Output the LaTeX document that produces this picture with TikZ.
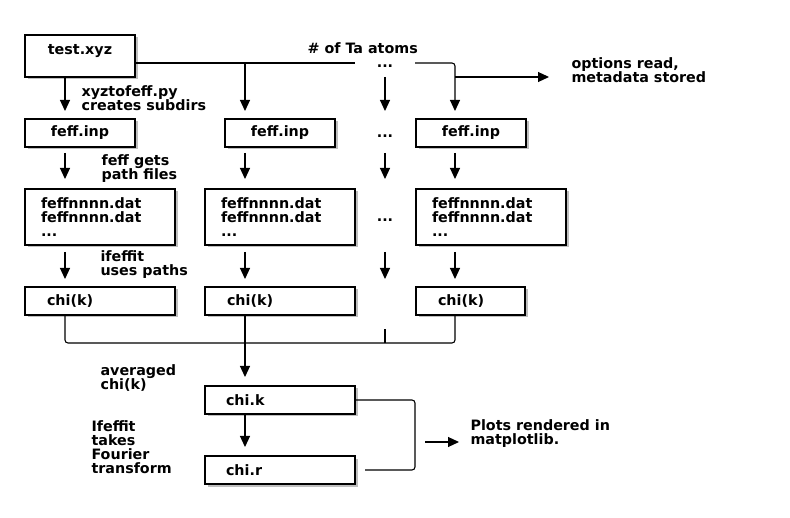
\documentclass[tikz,border=0pt]{standalone}
\usepackage{fontspec}
\setmainfont{DejaVu Sans}
\usetikzlibrary{positioning, arrows.meta, shadows}
\tikzset{%
  every node/.style={font=\bfseries\fontsize{14.3}{14}\selectfont},
  box/.style={draw, fill=white, minimum height=28pt, inner ysep=0pt, outer sep=0pt,
    drop shadow={shadow xshift=2.5pt, shadow yshift=-2.5pt, fill=black, opacity=0.25}},
  cbox/.style={box, minimum width=110pt, align=center}, % centred text
  lbox/.style={box, align=left, inner xsep=16pt, text width=118pt}, % left text
  lbl/.style={align=left, inner sep=0pt, anchor=west}, % free text
  dots/.style={inner sep=0pt, yshift=-3pt},
  arr/.style={-{Triangle[length=11pt,width=10pt]}, shorten >=8pt}
}

\begin{document}
\begin{tikzpicture}[x=1pt, y=-1pt, line width=1.1pt]
    \useasboundingbox (0,0) rectangle (790,518);
    % lanes of the arrows
    \coordinate (c1) at (65,0);
    \coordinate (c2) at (245,0);
    \coordinate (c3) at (385,0);
    \coordinate (c4) at (455,0);
    \coordinate (c5) at (415,0);

    \node[cbox, minimum height=42pt] (test) at (80,56) {test.xyz\\\mbox{}};
    \node[cbox, below=42pt of test] (inp1) {feff.inp};
    \node[cbox, right=90pt of inp1] (inp2) {feff.inp};
    \node[cbox, right=81pt of inp2] (inp3) {feff.inp};

    \node[lbox, minimum height=56pt, below=42pt of inp1.south west, anchor=north west] (dat1) {feffnnnn.dat\\feffnnnn.dat\\...};
    \node[lbox, minimum height=56pt, right=30pt of dat1] (dat2) {feffnnnn.dat\\feffnnnn.dat\\...};
    \node[lbox, minimum height=56pt, right=61pt of dat2] (dat3) {feffnnnn.dat\\feffnnnn.dat\\...};

    \node[lbox, inner xsep=22pt, text width=106pt, below=42pt of dat1] (chi1) {chi(k)};
    \node[lbox, inner xsep=22pt, text width=106pt, right=30pt of chi1] (chi2) {chi(k)};
    \node[lbox, inner xsep=22pt, text width=65pt, right=61pt of chi2] (chi3) {chi(k)};

    \node[lbox, inner xsep=21pt, text width=108pt, below=71pt of chi2] (chik) {chi.k};
    \node[lbox, inner xsep=21pt, text width=108pt, below=42pt of chik] (chir) {chi.r};

    \coordinate (bar) at ([yshift=-7pt]test.east);
    \coordinate (bus) at ([yshift=-28pt]chi1.south);
    \coordinate (pa) at (425,442);

    \node[dots, minimum width=59pt] (d1) at (bar -| c3) {...};
    \node[dots] (d2) at (inp2 -| c3) {...};
    \node[dots] (d3) at (dat2 -| c3) {...};

    \node[lbl] (ta) at (307,48) {\# of Ta atoms};
    \node[lbl] (opts) at (571,70.5) {options read,\\metadata stored};
    \node[lbl] (mk) at (81,98.5) {xyztofeff.py\\creates subdirs};
    \node[lbl] (gets) at (101,168.5) {feff gets\\path files};
    \node[lbl] (uses) at (100,265) {ifeffit\\uses paths};
    \node[lbl] (avg) at (100,378.5) {averaged\\chi(k)};
    \node[lbl] (ft) at (91,447.5) {Ifeffit\\takes\\Fourier\\transform};
    \node[lbl] (plots) at (470,433.5) {Plots rendered in\\matplotlib.};

    \draw (bar) -- (bar -| d1.west);
    \draw[arr, rounded corners=3pt] (bar -| d1.east) -| (inp3.north -| c4);
    \draw[arr] (test.south -| c1) -- (inp1.north -| c1);
    \draw[arr] (bar -| c2) -- (inp2.north -| c2);
    \draw[arr] (test.south -| c3) -- (inp2.north -| c3);
    \draw[arr, shorten >=22pt] (test.south -| c4) -- (opts.west |- test.south);

    \draw[arr, shorten <=6pt, shorten >=10pt] (inp1.south -| c1) -- (dat1.north -| c1);
    \draw[arr, shorten <=6pt, shorten >=10pt] (inp2.south -| c2) -- (dat2.north -| c2);
    \draw[arr, shorten <=6pt, shorten >=10pt] (inp2.south -| c3) -- (dat2.north -| c3);
    \draw[arr, shorten <=6pt, shorten >=10pt] (inp3.south -| c4) -- (dat3.north -| c4);

    \draw[arr, shorten <=7pt] (dat1.south -| c1) -- (chi1.north -| c1);
    \draw[arr, shorten <=7pt] (dat2.south -| c2) -- (chi2.north -| c2);
    \draw[arr, shorten <=7pt] (dat2.south -| c3) -- (chi2.north -| c3);
    \draw[arr, shorten <=7pt] (dat3.south -| c4) -- (chi3.north -| c4);

    \draw[rounded corners=3pt] (chi1.south -| c1) |- (bus -| c4) -- (chi3.south -| c4);
    \draw (bus -| c3) -- ++(0,-14);
    \draw[arr, shorten >=9pt] (chi2.south -| c2) -- (chik.north -| c2);
    \draw[arr, shorten >=9pt] (chik.south -| c2) -- (chir.north -| c2);
    \draw[rounded corners=3pt, shorten >=10pt] (chik.east) -| (chir.east -| c5) -- (chir.east);
    \draw[arr, shorten >=11pt] (pa) -- (pa -| plots.west);
\end{tikzpicture}
\end{document}
